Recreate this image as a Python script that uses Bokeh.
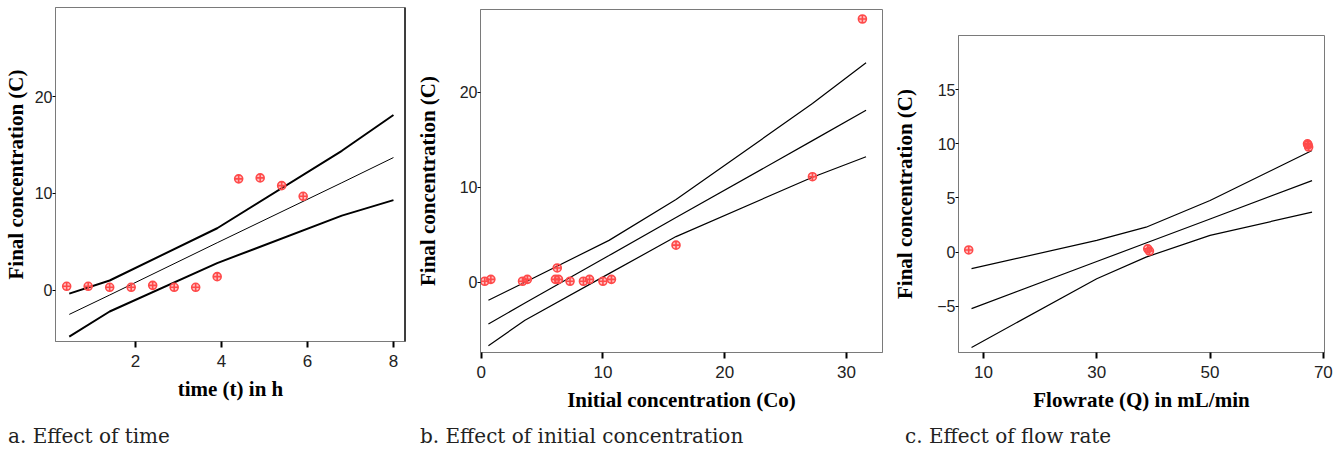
from bokeh.plotting import figure
from bokeh.models import FixedTicker, Range1d, Span, Div, Spacer
from bokeh.layouts import row, column
from bokeh.embed import file_html
from bokeh.resources import INLINE

# ---------------- data ----------------
# a. Effect of time
time_h = [0.4, 0.9, 1.4, 1.9, 2.4, 2.9, 3.4, 3.9, 4.4, 4.9, 5.4, 5.9]
conc_a = [0.4, 0.4, 0.3, 0.3, 0.5, 0.3, 0.3, 1.4, 11.5, 11.6, 10.8, 9.7]
band_x_a = [0.46, 1.4, 3.9, 6.8, 8.0]
upper_a = [-0.35, 1.0, 6.4, 14.4, 18.1]
fit_a = [-2.5, -0.5, 4.9, 11.1, 13.7]
lower_a = [-4.8, -2.2, 2.8, 7.7, 9.3]

# b. Effect of initial concentration
co_b = [0.3, 0.8, 3.4, 3.8, 6.1, 6.25, 6.35, 7.3, 8.4, 8.9, 10.0, 10.7, 16.0, 27.2, 31.3]
conc_b = [0.1, 0.3, 0.1, 0.3, 0.3, 1.5, 0.3, 0.1, 0.1, 0.3, 0.1, 0.3, 3.9, 11.1, 27.7]
band_x_b = [0.6, 3.6, 10.5, 16.0, 27.2, 31.6]
upper_b = [-1.9, 0.0, 4.4, 8.7, 18.8, 23.1]
fit_b = [-4.4, -2.2, 2.8, 6.8, 14.9, 18.1]
lower_b = [-6.7, -4.0, 0.9, 4.8, 11.05, 13.2]

# c. Effect of flow rate
flow_c = [7.4, 39.0, 39.3, 67.2, 67.4, 67.3]
conc_c = [0.2, 0.3, 0.1, 10.0, 9.7, 9.9]
band_x_c = [7.9, 30.0, 38.7, 50.0, 68.0]
upper_c = [-1.53, 1.08, 2.3, 4.77, 9.38]
fit_c = [-5.22, -0.87, 0.84, 3.06, 6.6]
lower_c = [-8.8, -2.46, -0.46, 1.54, 3.69]

xticks_a = [2, 4, 6, 8]
yticks_a = [0, 10, 20]
xticks_b = [0, 10, 20, 30]
yticks_b = [0, 10, 20]
xticks_c = [10, 30, 50, 70]
yticks_c = [-5, 0, 5, 10, 15]

captions = ["a. Effect of time", "b. Effect of initial concentration", "c. Effect of flow rate"]
xlabels = ["time (t) in h", "Initial concentration (Co)", "Flowrate (Q) in mL/min"]
ylabel = "Final concentration (C)"

MARK = "#ff4a4a"
AXIS_GRAY = "#7a7a7a"


def make_panel(xs, ys, bx, up, mid, lo, xr, yr, xt, yt, xlab,
               frame_w, frame_h, b_left, b_right, b_top, b_bottom,
               ylab_standoff, thick=False):
    p = figure(frame_width=frame_w, frame_height=frame_h,
               min_border_left=b_left, min_border_right=b_right,
               min_border_top=b_top, min_border_bottom=b_bottom,
               x_range=Range1d(*xr), y_range=Range1d(*yr),
               output_backend="svg", toolbar_location=None, margin=(0, 0, 0, 0))
    p.grid.visible = False
    p.outline_line_color = AXIS_GRAY
    p.outline_line_width = 1
    p.background_fill_color = "white"
    p.border_fill_color = "white"

    lw_outer = 2.0 if thick else 1.2
    lw_mid = 1.0 if thick else 1.2
    p.line(bx, up, line_color="black", line_width=lw_outer)
    p.line(bx, mid, line_color="black", line_width=lw_mid)
    p.line(bx, lo, line_color="black", line_width=lw_outer)
    p.scatter(xs, ys, marker="circle_cross", size=8, line_color=MARK,
              fill_color=MARK, fill_alpha=0.35, line_width=1.6)

    xa = p.xaxis[0]
    xa.ticker = FixedTicker(ticks=xt)
    xa.minor_tick_line_color = None
    xa.axis_line_color = AXIS_GRAY
    xa.major_tick_line_color = "black"
    xa.major_tick_line_width = 2
    xa.major_tick_out = 6
    xa.major_tick_in = 0
    xa.major_label_standoff = 7
    xa.major_label_text_font = "Liberation Sans"
    xa.major_label_text_font_size = "17px"
    xa.major_label_text_color = "#222222"
    xa.axis_label = xlab
    xa.axis_label_text_font = "Liberation Serif"
    xa.axis_label_text_font_style = "bold"
    xa.axis_label_text_font_size = "21px"
    xa.axis_label_text_color = "black"
    xa.axis_label_standoff = 7

    ya = p.yaxis[0]
    ya.ticker = FixedTicker(ticks=yt)
    ya.minor_tick_line_color = None
    ya.axis_line_color = AXIS_GRAY
    ya.major_tick_line_color = "black"
    ya.major_tick_line_width = 1
    ya.major_tick_out = 3
    ya.major_tick_in = 0
    ya.major_label_standoff = 0
    ya.major_label_orientation = "horizontal"
    ya.major_label_text_font = "Liberation Sans"
    ya.major_label_text_font_size = "16px"
    ya.major_label_text_color = "#222222"
    ya.axis_label = ylabel
    ya.axis_label_text_font = "Liberation Serif"
    ya.axis_label_text_font_style = "bold"
    ya.axis_label_text_font_size = "21px"
    ya.axis_label_text_color = "black"
    ya.axis_label_standoff = ylab_standoff
    return p


pa = make_panel(time_h, conc_a, band_x_a, upper_a, fit_a, lower_a,
                (0.14, 8.28), (-5.3, 29.2), xticks_a, yticks_a, xlabels[0],
                350, 334, 53, 5, 7, 77, 4, thick=True)
# black right border of panel a
pa.add_layout(Span(location=pa.x_range.end, dimension="height",
                   line_color="black", line_width=2.5))

pb = make_panel(co_b, conc_b, band_x_b, upper_b, fit_b, lower_b,
                (-0.05, 32.95), (-7.4, 28.7), xticks_b, yticks_b, xlabels[1],
                402, 343, 70, 6, 9, 66, 17)

pc = make_panel(flow_c, conc_c, band_x_c, upper_c, fit_c, lower_c,
                (5.6, 70.2), (-9.27, 20.0), xticks_c, yticks_c, xlabels[2],
                366, 317, 70, 22, 9, 66, 17)

cap_widths = [408, 478, 458]
cap_pad = [8, 12, 19]
divs = []
for txt, w, pad in zip(captions, cap_widths, cap_pad):
    divs.append(Div(text=txt, width=w, height=32, margin=(0, 0, 0, 0),
                    styles={"font-family": "DejaVu Serif", "font-size": "20px",
                            "padding-left": f"{pad}px", "padding-top": "4px",
                            "color": "#222222", "white-space": "nowrap"}))

top_row = row(column(pa, spacing=0), column(pb, spacing=0),
              column(Spacer(height=26, width=1, margin=(0, 0, 0, 0)), pc, spacing=0),
              spacing=0)
layout = column(top_row, row(*divs, spacing=0), spacing=0)

open("out.html", "w").write(file_html(layout, INLINE))
